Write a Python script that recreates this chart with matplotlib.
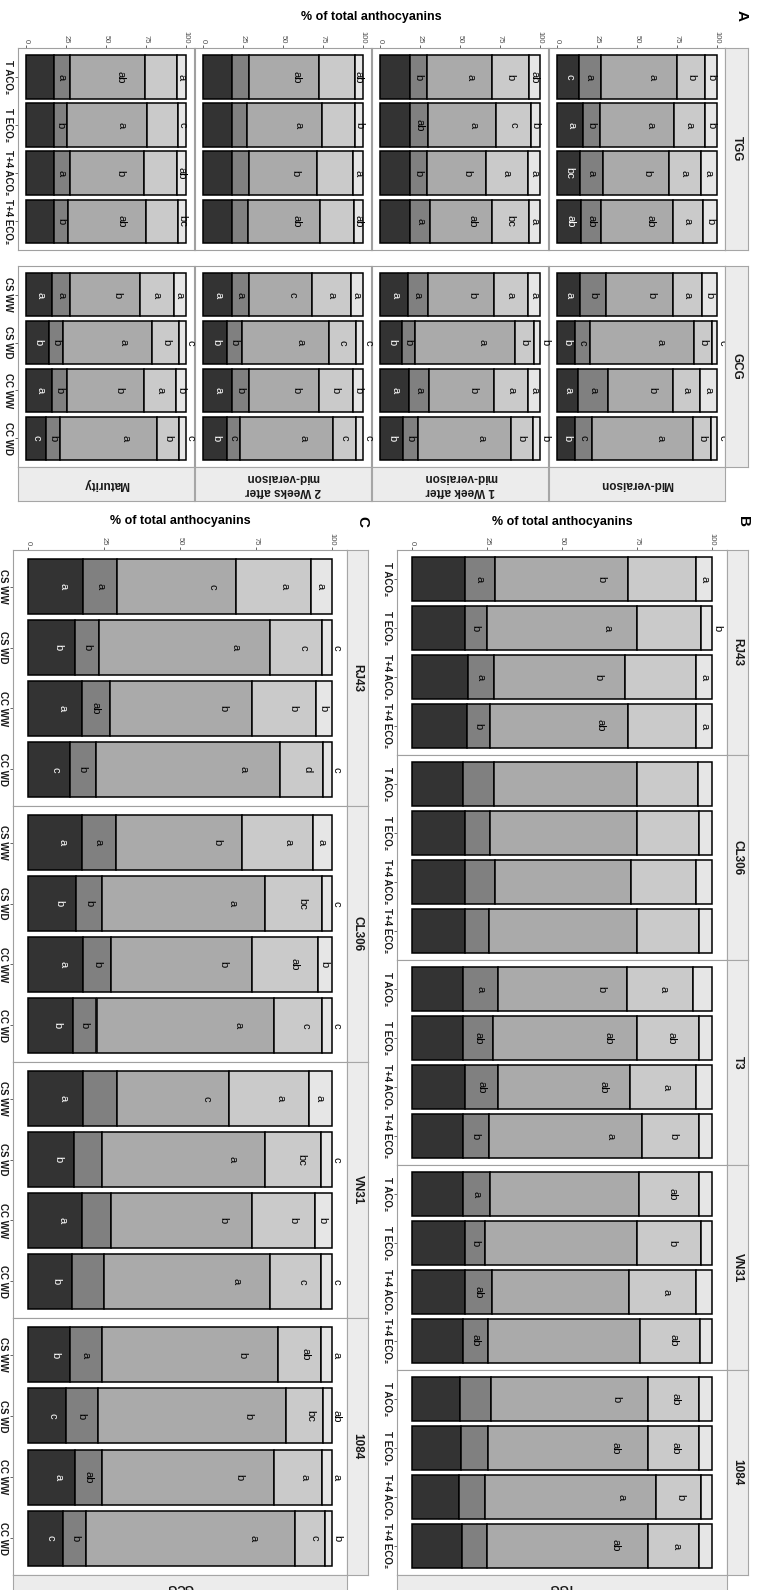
import numpy as np
import matplotlib
matplotlib.use('Agg')
import matplotlib.pyplot as plt

plt.rcParams['font.family'] = ['Liberation Sans', 'DejaVu Sans']

W, H = 760, 1590

# grey fill per anthocyanin class (stack order, left -> right)
fills = ['#333333', '#808080', '#AAAAAA', '#CACACA', '#E6E6E6']

tgg_trt = ['T ACO₂', 'T ECO₂', 'T+4 ACO₂', 'T+4 ECO₂']
gcg_trt = ['CS WW', 'CS WD', 'CC WW', 'CC WD']
stages = ['Mid-veraison', '1 Week after\nmid-veraison', '2 Weeks after\nmid-veraison', 'Maturity']
clones_b = ['RJ43', 'CL306', 'T3', 'VN31', '1084']
clones_c = ['RJ43', 'CL306', 'VN31', '1084']

# ---- panel A : % of total anthocyanins, 4 treatments x 5 classes ----
a_tgg_mid = [[14.0, 13.2, 48.1, 17.1, 7.6], [16.1, 10.7, 46.4, 19.2, 7.6],
             [14.4, 14.5, 40.8, 20.0, 10.3], [15.1, 12.7, 44.8, 18.5, 8.9]]
a_tgg_1w = [[18.9, 10.2, 40.6, 23.4, 6.9], [18.9, 11.2, 42.1, 22.3, 5.5],
            [18.9, 10.6, 36.6, 26.4, 7.5], [18.9, 12.6, 38.6, 23.0, 6.9]]
a_tgg_2w = [[18.4, 10.2, 43.8, 22.5, 5.1], [18.4, 9.2, 46.9, 20.4, 5.1],
            [18.4, 10.2, 42.8, 22.5, 6.1], [18.4, 9.8, 44.9, 21.2, 5.7]]
a_tgg_mat = [[17.3, 10.3, 46.5, 20.4, 5.5], [17.3, 8.2, 50.0, 19.8, 4.7],
             [17.3, 10.3, 46.3, 20.6, 5.5], [17.3, 9.2, 48.4, 20.4, 4.7]]
a_gcg_mid = [[14.4, 16.1, 42.1, 18.1, 9.3], [11.3, 9.3, 65.0, 11.3, 3.1],
             [13.4, 18.6, 40.2, 16.9, 10.9], [11.3, 10.8, 62.8, 11.6, 3.5]]
a_gcg_1w = [[17.3, 12.8, 41.0, 21.4, 7.5], [13.8, 7.9, 62.6, 12.2, 3.5],
            [17.9, 13.0, 40.6, 21.0, 7.5], [14.2, 9.8, 57.7, 13.8, 4.5]]
a_gcg_2w = [[18.0, 11.0, 39.4, 23.8, 7.8], [15.3, 8.8, 54.5, 16.9, 4.5],
            [18.0, 10.6, 43.8, 21.1, 6.5], [15.3, 7.6, 58.3, 14.7, 4.1]]
a_gcg_mat = [[16.3, 11.3, 43.4, 21.4, 7.6], [14.3, 8.8, 55.9, 16.9, 4.1],
             [16.3, 9.6, 48.0, 20.0, 6.1], [12.2, 9.2, 60.2, 14.3, 4.1]]

# letters of significance, '' = none
l_tgg_mid = [['c', 'a', 'a', 'b', 'b'], ['a', 'b', 'a', 'a', 'b'], ['bc', 'a', 'b', 'a', 'a'], ['ab', 'ab', 'ab', 'a', 'b']]
l_tgg_1w = [['', 'b', 'a', 'b', 'ab'], ['', 'ab', 'a', 'c', 'b'], ['', 'b', 'b', 'a', 'a'], ['', 'a', 'ab', 'bc', 'a']]
l_tgg_2w = [['', '', 'ab', '', 'ab'], ['', '', 'a', '', 'b'], ['', '', 'b', '', 'a'], ['', '', 'ab', '', 'ab']]
l_tgg_mat = [['', 'a', 'ab', '', 'a'], ['', 'b', 'a', '', 'c'], ['', 'a', 'b', '', 'ab'], ['', 'b', 'ab', '', 'bc']]
l_gcg_mid = [['a', 'b', 'b', 'a', 'b'], ['b', 'c', 'a', 'b', 'c'], ['a', 'a', 'b', 'a', 'a'], ['b', 'c', 'a', 'b', 'c']]
l_gcg_1w = [['a', 'a', 'b', 'a', 'a'], ['b', 'b', 'a', 'b', 'b'], ['a', 'a', 'b', 'a', 'a'], ['b', 'b', 'a', 'b', 'b']]
l_gcg_2w = [['a', 'a', 'c', 'a', 'a'], ['b', 'b', 'a', 'c', 'c'], ['a', 'b', 'b', 'b', 'b'], ['b', 'c', 'a', 'c', 'c']]
l_gcg_mat = [['a', 'a', 'b', 'a', 'a'], ['b', 'b', 'a', 'b', 'c'], ['a', 'b', 'b', 'a', 'b'], ['c', 'b', 'a', 'b', 'c']]

# ---- panel B : TGG clones at maturity ----
b_rj43 = [[17.7, 9.9, 44.4, 22.8, 5.2], [17.5, 7.5, 50.1, 21.3, 3.6],
          [18.6, 8.6, 43.7, 23.9, 5.2], [18.2, 7.8, 46.0, 22.8, 5.2]]
b_cl306 = [[17.1, 10.1, 47.7, 20.3, 4.8], [17.5, 8.5, 48.9, 20.7, 4.4],
           [17.5, 10.1, 45.3, 21.6, 5.5], [17.5, 8.1, 49.3, 20.7, 4.4]]
b_t3 = [[16.9, 11.8, 43.1, 21.8, 6.4], [17.1, 9.8, 48.2, 20.5, 4.4],
        [17.7, 11.0, 44.0, 21.8, 5.5], [16.9, 8.7, 50.9, 19.1, 4.4]]
b_vn31 = [[17.1, 8.9, 49.7, 20.1, 4.2], [17.7, 6.6, 50.6, 21.5, 3.6],
          [17.7, 8.8, 45.9, 22.4, 5.2], [17.1, 8.1, 50.8, 20.1, 3.9]]
b_1084 = [[16.0, 10.3, 52.4, 16.9, 4.4], [16.4, 9.0, 53.1, 17.1, 4.4],
          [15.7, 8.6, 56.9, 15.2, 3.6], [16.6, 8.4, 53.5, 17.3, 4.2]]
lb_rj43 = [['', 'a', 'b', '', 'a'], ['', 'b', 'a', '', 'b'], ['', 'a', 'b', '', 'a'], ['', 'b', 'ab', '', 'a']]
lb_cl306 = [['', '', '', '', '']] * 4
lb_t3 = [['', 'a', 'b', 'a', ''], ['', 'ab', 'ab', 'ab', ''], ['', 'ab', 'ab', 'a', ''], ['', 'b', 'a', 'b', '']]
lb_vn31 = [['', 'a', '', 'ab', ''], ['', 'b', '', 'b', ''], ['', 'ab', '', 'a', ''], ['', 'ab', '', 'ab', '']]
lb_1084 = [['', '', 'b', 'ab', ''], ['', '', 'ab', 'ab', ''], ['', '', 'a', 'b', ''], ['', '', 'ab', 'a', '']]

# ---- panel C : GCG clones at maturity ----
c_rj43 = [[18.1, 11.2, 39.2, 24.6, 6.9], [15.4, 8.0, 56.1, 17.2, 3.3],
          [17.6, 9.3, 46.7, 21.2, 5.2], [13.7, 8.5, 60.8, 14.0, 3.0]]
c_cl306 = [[17.6, 11.3, 41.6, 23.3, 6.2], [15.9, 8.5, 53.6, 18.7, 3.3],
           [18.1, 9.2, 46.3, 21.7, 4.7], [14.6, 7.9, 58.5, 15.9, 3.1]]
c_vn31 = [[18.1, 11.2, 36.7, 26.5, 7.5], [15.1, 9.3, 53.6, 18.4, 3.6],
          [17.6, 9.7, 46.3, 20.9, 5.5], [14.3, 10.6, 54.6, 16.9, 3.6]]
c_1084 = [[13.7, 10.5, 58.0, 14.3, 3.5], [12.4, 10.5, 62.0, 12.1, 3.0],
          [15.4, 8.8, 56.6, 15.9, 3.3], [11.5, 7.7, 68.8, 9.8, 2.2]]
lc_rj43 = [['a', 'a', 'c', 'a', 'a'], ['b', 'b', 'a', 'c', 'c'], ['a', 'ab', 'b', 'b', 'b'], ['c', 'b', 'a', 'd', 'c']]
lc_cl306 = [['a', 'a', 'b', 'a', 'a'], ['b', 'b', 'a', 'bc', 'c'], ['a', 'b', 'b', 'ab', 'b'], ['b', 'b', 'a', 'c', 'c']]
lc_vn31 = [['a', '', 'c', 'a', 'a'], ['b', '', 'a', 'bc', 'c'], ['a', '', 'b', 'b', 'b'], ['b', '', 'a', 'c', 'c']]
lc_1084 = [['b', 'a', 'b', 'ab', 'a'], ['c', 'b', 'b', 'bc', 'ab'], ['a', 'ab', 'b', 'a', 'a'], ['c', 'b', 'a', 'c', 'b']]

fig = plt.figure(figsize=(W / 100, H / 100), dpi=100)


def box(x0, y0, x1, y1):
    # pixel box (top-left origin) -> axes
    return fig.add_axes([x0 / W, 1 - y1 / H, (x1 - x0) / W, (y1 - y0) / H])


def facet(x0, y0, x1, y1, vals, labs, cats=None, ticks=False, frac=(0.5,) * 5, out_thr=4.6):
    ax = box(x0, y0, x1, y1)
    vals = np.array(vals)
    left = np.cumsum(vals, axis=1) - vals
    pos = np.arange(1, len(vals) + 1)
    for k in range(5):
        ax.barh(pos, vals[:, k], left=left[:, k], height=0.9, color=fills[k],
                edgecolor='black', linewidth=1.1)
    ppu = (x1 - x0) / 110.0
    for i in range(len(vals)):
        for k in range(5):
            t = labs[i][k]
            if not t:
                continue
            x = left[i, k] + frac[k] * vals[i, k]
            if k == 4 and vals[i, k] < out_thr:
                x = 100 + 5.0 / ppu
            ax.text(x, pos[i], t, rotation=-90, ha='center', va='center', fontsize=8,
                    color='white' if k == 0 else 'black', clip_on=False)
    ax.set_xlim(-5, 105)
    ax.set_ylim(4.6, 0.4)
    ax.xaxis.tick_top()
    ax.set_xticks([0, 25, 50, 75, 100])
    if ticks:
        ax.set_xticklabels(['0', '25', '50', '75', '100'], rotation=-90, fontsize=5.5, color='#4d4d4d')
        ax.tick_params(axis='x', length=2.5, width=0.6, color='#4d4d4d', pad=1)
    else:
        ax.set_xticklabels([])
        ax.tick_params(axis='x', length=0)
    ax.set_yticks(pos)
    if cats:
        ax.set_yticklabels(cats, rotation=-90, fontsize=7, fontweight='bold', va='center', color='#1a1a1a')
        ax.tick_params(axis='y', length=2.5, width=0.6, color='#4d4d4d', pad=1)
    else:
        ax.set_yticklabels([])
        ax.tick_params(axis='y', length=0)
    for s in ax.spines.values():
        s.set_color('#a0a0a0')
        s.set_linewidth(0.8)
    return ax


def strip(x0, y0, x1, y1, text, rot):
    ax = box(x0, y0, x1, y1)
    ax.set_facecolor('#ececec')
    ax.set_xticks([])
    ax.set_yticks([])
    for s in ax.spines.values():
        s.set_color('#a6a6a6')
        s.set_linewidth(0.8)
    ax.text(0.5, 0.5, text, rotation=rot, ha='center', va='center', fontsize=8.5,
            fontweight='bold', color='#1a1a1a', multialignment='center', transform=ax.transAxes)


# ---------------- panel A ----------------
a_cols = [(549, 725), (372, 548), (195, 371), (18, 194)]  # Mid, 1W, 2W, Maturity
a_tgg = [a_tgg_mid, a_tgg_1w, a_tgg_2w, a_tgg_mat]
a_gcg = [a_gcg_mid, a_gcg_1w, a_gcg_2w, a_gcg_mat]
la_tgg = [l_tgg_mid, l_tgg_1w, l_tgg_2w, l_tgg_mat]
la_gcg = [l_gcg_mid, l_gcg_1w, l_gcg_2w, l_gcg_mat]
frac_a = (0.55, 0.5, 0.68, 0.5, 0.5)
for j, (x0, x1) in enumerate(a_cols):
    last = j == 3
    facet(x0, 48, x1, 250, a_tgg[j], la_tgg[j], cats=tgg_trt if last else None,
          ticks=True, frac=frac_a)
    facet(x0, 266, x1, 467, a_gcg[j], la_gcg[j], cats=gcg_trt if last else None,
          frac=frac_a)
    strip(x0, 467, x1, 501, stages[j], 180)
strip(725, 48, 748, 250, 'TGG', -90)
strip(725, 266, 748, 467, 'GCG', -90)

# ---------------- panel B ----------------
b_rows = [(550, 755), (755, 960), (960, 1165), (1165, 1370), (1370, 1575)]
b_vals = [b_rj43, b_cl306, b_t3, b_vn31, b_1084]
b_labs = [lb_rj43, lb_cl306, lb_t3, lb_vn31, lb_1084]
frac_b = (0.5, 0.5, 0.8, 0.55, 0.5)
for i, (y0, y1) in enumerate(b_rows):
    facet(397, y0, 727, y1, b_vals[i], b_labs[i], cats=tgg_trt, ticks=(i == 0), frac=frac_b)
    strip(727, y0, 748, y1, clones_b[i], -90)
strip(397, 1575, 727, 1599, 'TGG', 180)

# ---------------- panel C ----------------
c_rows = [(550, 806), (806, 1062), (1062, 1318), (1318, 1575)]
c_vals = [c_rj43, c_cl306, c_vn31, c_1084]
c_labs = [lc_rj43, lc_cl306, lc_vn31, lc_1084]
frac_c = (0.65, 0.5, 0.8, 0.65, 0.45)
for i, (y0, y1) in enumerate(c_rows):
    facet(13, y0, 347, y1, c_vals[i], c_labs[i], cats=gcg_trt, ticks=(i == 0), frac=frac_c)
    strip(347, y0, 368, y1, clones_c[i], -90)
strip(13, 1575, 347, 1599, 'GCG', 180)

# titles and panel letters
for x, y, t in [(371, 17, '% of total anthocyanins'), (562, 522, '% of total anthocyanins'),
                (180, 521, '% of total anthocyanins')]:
    fig.text(x / W, 1 - y / H, t, ha='center', va='center', fontsize=9, fontweight='bold')
for x, y, t in [(742, 15, 'A'), (743, 522, 'B'), (362, 522, 'C')]:
    fig.text(x / W, 1 - y / H, t, ha='center', va='center', fontsize=11, fontweight='bold', rotation=-90)

fig.savefig('out.png', dpi=100)
